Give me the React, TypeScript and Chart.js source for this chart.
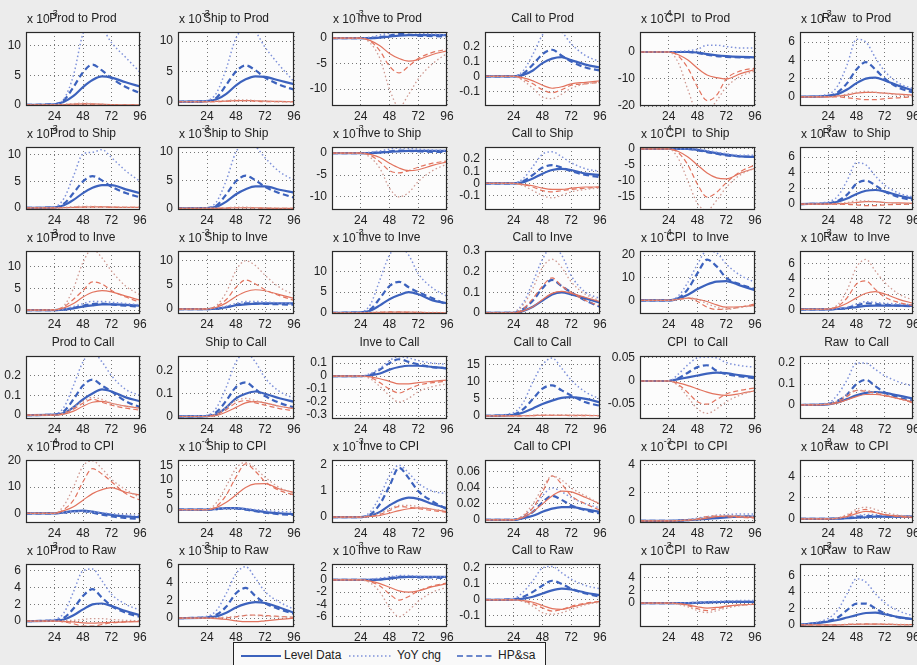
import React, { useEffect, useRef } from 'react';
import { Chart, registerables } from 'chart.js';
Chart.register(...registerables);

// horizon (months) at which each response value is read
const STEPS = [0, 24, 32, 40, 48, 56, 64, 72, 84, 96];
const X_TICKS = [24, 48, 72, 96];
const SHOCKS = ['Prod', 'Ship', 'Inve', 'Call', 'CPI ', 'Raw '];
const RESPONSES = ['Prod', 'Ship', 'Inve', 'Call', 'CPI', 'Raw'];

// exponent shown as "x 10^e" (row-major: response row, shock column)
const EXPONENTS = [
  '-3', '-3', '-3', '', '-4', '-3',
  '-3', '-3', '-3', '', '-4', '-3',
  '-3', '-3', '-3', '', '-4', '-3',
  '', '', '', '', '', '',
  '-4', '-4', '-3', '', '-2', '-2',
  '-3', '-3', '-3', '', '-3', '-3',
];

const Y_RANGES = [
  [-0.2, 12.3], [-0.7, 11.5], [-13.3, 1.2], [-0.2, 0.3], [-20, 7.4], [-1, 7.1],
  [-0.4, 11.5], [-0.3, 10.9], [-13, 1.4], [-0.22, 0.3], [-19, 0.6], [-0.76, 7.3],
  [-0.9, 13.6], [-1, 12], [-0.3, 15], [-0.005, 0.3], [-6, 21.8], [-0.6, 7.6],
  [-0.02, 0.3], [-0.011, 0.266], [-0.33, 0.155], [-0.9, 17.6], [-0.082, 0.054], [-0.067, 0.234],
  [-3.7, 20.3], [-4.5, 16.8], [-0.23, 2.2], [-0.004, 0.075], [-0.15, 4.35], [-0.4, 5.6],
  [-0.7, 6.8], [-1, 6.1], [-7.7, 2.6], [-0.17, 0.225], [-3.8, 6.2], [-0.25, 7.4],
];

const Y_TICKS = [
  [0, 5, 10], [0, 5, 10], [-10, -5, 0], [-0.1, 0, 0.1, 0.2], [-20, -10, 0], [0, 2, 4, 6],
  [0, 5, 10], [0, 5, 10], [-10, -5, 0], [-0.1, 0, 0.1, 0.2], [-15, -10, -5, 0], [0, 2, 4, 6],
  [0, 5, 10], [0, 5, 10], [0, 5, 10], [0, 0.1, 0.2, 0.3], [0, 10, 20], [0, 2, 4, 6],
  [0, 0.1, 0.2], [0, 0.1, 0.2], [-0.3, -0.2, -0.1, 0, 0.1], [0, 5, 10, 15], [-0.05, 0, 0.05], [0, 0.1, 0.2],
  [0, 10, 20], [0, 5, 10, 15], [0, 1, 2], [0, 0.02, 0.04, 0.06], [0, 2, 4], [0, 2, 4],
  [0, 2, 4, 6], [0, 2, 4, 6], [-6, -4, -2, 0, 2], [-0.1, 0, 0.1, 0.2], [0, 2, 4], [0, 2, 4, 6],
];

// Blue: Level Data (solid)
const LEVEL = [
  [0, 0.1, 0.5, 1.5, 3.0, 4.2, 4.8, 4.6, 3.8, 3.1],
  [0, 0.1, 0.4, 1.3, 2.7, 3.7, 4.2, 4.1, 3.5, 2.9],
  [0, 0, 0, 0.1, 0.3, 0.5, 0.6, 0.6, 0.6, 0.6],
  [0, 0, 0.01, 0.04, 0.09, 0.12, 0.13, 0.11, 0.08, 0.06],
  [0, 0, 0, 0, -0.2, -0.8, -1.2, -1.5, -1.8, -2],
  [0, 0.1, 0.3, 0.8, 1.5, 2.0, 2.1, 1.8, 1.2, 0.7],
  [0, 0.1, 0.5, 1.5, 2.8, 3.8, 4.3, 4.3, 3.5, 2.8],
  [0, 0.05, 0.3, 1.2, 2.5, 3.4, 3.9, 3.9, 3.3, 2.8],
  [0, 0, 0, 0.1, 0.3, 0.4, 0.5, 0.5, 0.5, 0.5],
  [0, 0, 0.01, 0.04, 0.08, 0.11, 0.12, 0.11, 0.08, 0.07],
  [0, 0, 0, 0, -0.3, -0.8, -1.3, -1.8, -2.3, -2.5],
  [0, 0.1, 0.3, 0.7, 1.3, 1.7, 1.8, 1.6, 1.1, 0.7],
  [0, 0, 0.1, 0.4, 0.8, 1.1, 1.3, 1.3, 1.2, 1.0],
  [0, 0, 0.1, 0.4, 0.8, 1.0, 1.1, 1.2, 1.2, 1.2],
  [0, 0.1, 0.5, 1.8, 3.3, 4.3, 5.0, 4.5, 3.0, 2.3],
  [0, 0, 0.01, 0.03, 0.06, 0.09, 0.1, 0.09, 0.07, 0.05],
  [0, 0, 0.8, 2.5, 5, 7, 8.3, 8.5, 6.5, 4.5],
  [0, 0, 0.05, 0.15, 0.3, 0.45, 0.5, 0.5, 0.5, 0.45],
  [0, 0.002, 0.01, 0.04, 0.08, 0.11, 0.13, 0.12, 0.09, 0.07],
  [0, 0.002, 0.01, 0.04, 0.08, 0.1, 0.11, 0.1, 0.08, 0.065],
  [0, 0, 0.005, 0.02, 0.05, 0.07, 0.08, 0.08, 0.07, 0.06],
  [0, 0.3, 1, 2.2, 3.5, 4.5, 5.3, 5.5, 5, 4],
  [0, 0, 0.004, 0.008, 0.012, 0.016, 0.018, 0.017, 0.012, 0.008],
  [0, 0.003, 0.012, 0.028, 0.046, 0.058, 0.062, 0.058, 0.045, 0.03],
  [0, 0, 0.3, 0.8, 1.0, 0.6, 0, -0.6, -1.2, -1.5],
  [0, 0, 0.2, 0.5, 0.5, 0.2, -0.3, -0.8, -1.2, -1.5],
  [0, 0, 0.05, 0.2, 0.45, 0.65, 0.75, 0.7, 0.5, 0.35],
  [0, 0, 0.002, 0.005, 0.01, 0.014, 0.016, 0.016, 0.013, 0.01],
  [0, 0, 0.02, 0.05, 0.1, 0.15, 0.2, 0.25, 0.3, 0.3],
  [0, 0, 0.02, 0.05, 0.1, 0.15, 0.2, 0.2, 0.2, 0.2],
  [0, 0.05, 0.2, 0.7, 1.4, 2.0, 2.1, 1.8, 1.2, 0.7],
  [0, 0.05, 0.2, 0.6, 1.2, 1.6, 1.8, 1.7, 1.2, 0.6],
  [0, 0, 0, 0.05, 0.2, 0.4, 0.5, 0.5, 0.5, 0.5],
  [0, 0.002, 0.008, 0.02, 0.04, 0.06, 0.07, 0.065, 0.045, 0.03],
  [0, 0, 0, 0, 0.05, 0.1, 0.15, 0.2, 0.2, 0.2],
  [0, 0.4, 0.6, 0.9, 1.2, 1.45, 1.5, 1.3, 0.95, 0.7],
];

// Blue: YoY chg (dotted)
const YOY = [
  [0, 0.1, 1, 5, 12, 14, 13, 10.5, 8, 5.5],
  [0, 0.2, 1.5, 5.5, 10.5, 12, 11.5, 9, 6, 3.3],
  [0, 0, 0.2, 0.6, 1.0, 1.5, 1.2, 1, 0.8, 0.6],
  [0, 0, 0.04, 0.15, 0.28, 0.33, 0.3, 0.22, 0.14, 0.1],
  [0, 0, 0.2, 0.5, 1, 2.5, 2.5, 2, 1.5, 1.5],
  [0, 0.3, 1.2, 3.5, 6.3, 6.0, 4.3, 2.8, 1.5, 0.9],
  [0, 0.2, 1.8, 6, 10.2, 10.5, 11, 9.5, 7, 5],
  [0, 0.1, 1.2, 5, 10, 11.5, 11, 9, 6.5, 5],
  [0, 0, 0.2, 0.5, 0.9, 1.2, 1.1, 0.9, 0.7, 0.6],
  [0, 0, 0.04, 0.14, 0.24, 0.26, 0.22, 0.17, 0.12, 0.1],
  [0, 0, 0, 0.1, 0, -0.5, -1, -1.5, -2, -2],
  [0, 0.3, 1.0, 3.0, 5.3, 5.0, 3.6, 2.4, 1.4, 0.9],
  [0, 0, 0.2, 0.8, 1.5, 2, 2, 1.8, 1.5, 1.2],
  [0, 0, 0.2, 0.6, 1.2, 1.6, 1.6, 1.5, 1.3, 1.2],
  [0, 0.2, 2, 8, 14, 16, 14, 9.5, 6, 4],
  [0, 0.005, 0.05, 0.15, 0.26, 0.32, 0.28, 0.18, 0.1, 0.07],
  [0, 0, 2, 8, 16, 22, 21, 16, 11, 8],
  [0, 0, 0.1, 0.3, 0.7, 1.0, 0.9, 0.8, 0.7, 0.6],
  [0, 0.005, 0.04, 0.15, 0.27, 0.32, 0.27, 0.2, 0.13, 0.1],
  [0, 0.005, 0.04, 0.13, 0.24, 0.28, 0.24, 0.17, 0.11, 0.08],
  [0, 0, 0.02, 0.06, 0.12, 0.15, 0.14, 0.12, 0.1, 0.09],
  [0, 1, 4, 10, 15, 17, 14, 10.5, 7, 5],
  [0, 0, 0.015, 0.035, 0.05, 0.052, 0.05, 0.04, 0.033, 0.03],
  [0, 0.01, 0.05, 0.12, 0.2, 0.2, 0.17, 0.14, 0.11, 0.09],
  [0, 0, 0.3, 0.6, 0.8, 0.5, 0.2, -0.2, -0.5, -0.8],
  [0, 0, 0.2, 0.4, 0.5, 0.3, 0, -0.3, -0.6, -0.8],
  [0, 0, 0.2, 0.8, 1.6, 2.0, 1.7, 1.3, 1.0, 0.9],
  [0, 0, 0.005, 0.015, 0.03, 0.04, 0.035, 0.028, 0.02, 0.015],
  [0, 0, 0.03, 0.1, 0.2, 0.3, 0.4, 0.45, 0.5, 0.5],
  [0, 0, 0.05, 0.15, 0.3, 0.4, 0.4, 0.35, 0.3, 0.3],
  [0, 0.2, 1.0, 3.5, 6.0, 6.2, 4.8, 3.2, 2.0, 1.3],
  [0, 0.2, 0.9, 2.8, 5.0, 5.8, 4.5, 3.0, 1.8, 1.0],
  [0, 0, 0.1, 0.3, 0.5, 0.7, 0.7, 0.6, 0.5, 0.5],
  [0, 0.01, 0.05, 0.12, 0.2, 0.21, 0.17, 0.13, 0.09, 0.07],
  [0, 0, 0, 0.05, 0.1, 0.2, 0.3, 0.3, 0.4, 0.4],
  [0, 0.8, 1.8, 3.8, 5.6, 5.2, 3.8, 2.7, 1.7, 1.1],
];

// Blue: HP&sa (dashed)
const HPSA = [
  [0, 0.1, 0.8, 3, 5.5, 6.8, 5.8, 4.5, 3, 2],
  [0, 0.1, 0.7, 2.8, 5, 6, 5.2, 4, 2.8, 2],
  [0, 0, 0, 0.2, 0.5, 0.8, 0.7, 0.5, 0.4, 0.3],
  [0, 0, 0.02, 0.08, 0.15, 0.18, 0.14, 0.1, 0.06, 0.04],
  [0, 0, 0, 0, -0.3, -1, -1.5, -1.8, -2, -2],
  [0, 0.1, 0.5, 1.5, 3.0, 3.8, 3.0, 2.0, 1.0, 0.5],
  [0, 0.1, 0.8, 2.8, 5, 6, 5.2, 4, 2.8, 2],
  [0, 0.05, 0.5, 2.5, 4.8, 5.8, 5, 3.8, 2.7, 1.9],
  [0, 0, 0, 0.2, 0.4, 0.6, 0.5, 0.4, 0.3, 0.3],
  [0, 0, 0.02, 0.07, 0.13, 0.15, 0.13, 0.1, 0.07, 0.05],
  [0, 0, 0, 0, -0.4, -1, -1.5, -2, -2.3, -2.5],
  [0, 0.1, 0.4, 1.2, 2.6, 3.0, 2.4, 1.6, 0.9, 0.5],
  [0, 0, 0.1, 0.5, 1.0, 1.4, 1.5, 1.3, 1.0, 0.8],
  [0, 0, 0.1, 0.4, 0.9, 1.2, 1.2, 1.1, 1.0, 0.9],
  [0, 0.1, 0.8, 3.5, 6.5, 7.5, 6.2, 5.0, 3.5, 2.0],
  [0, 0, 0.02, 0.06, 0.12, 0.16, 0.13, 0.1, 0.06, 0.03],
  [0, 0, 1, 5, 12, 18, 15, 10, 7, 5],
  [0, 0, 0.05, 0.2, 0.5, 0.8, 0.7, 0.6, 0.5, 0.4],
  [0, 0.002, 0.02, 0.08, 0.15, 0.18, 0.15, 0.12, 0.07, 0.04],
  [0, 0.002, 0.02, 0.07, 0.13, 0.15, 0.12, 0.09, 0.06, 0.04],
  [0, 0, 0.01, 0.05, 0.1, 0.13, 0.11, 0.09, 0.07, 0.06],
  [0, 0.5, 2, 5, 8, 9, 7.5, 6, 4, 3],
  [0, 0, 0.006, 0.018, 0.03, 0.034, 0.022, 0.015, 0.01, 0.006],
  [0, 0.005, 0.02, 0.05, 0.1, 0.12, 0.09, 0.06, 0.035, 0.02],
  [0, 0, 0.3, 0.8, 0.8, 0.2, -0.5, -1.2, -1.8, -2.2],
  [0, 0, 0.2, 0.5, 0.4, 0, -0.5, -1, -1.5, -1.8],
  [0, 0, 0.1, 0.5, 1.2, 1.9, 1.5, 1.0, 0.6, 0.3],
  [0, 0, 0.003, 0.01, 0.022, 0.03, 0.025, 0.018, 0.012, 0.008],
  [0, 0, 0.02, 0.06, 0.12, 0.2, 0.25, 0.3, 0.3, 0.3],
  [0, 0, 0.03, 0.08, 0.2, 0.25, 0.25, 0.2, 0.2, 0.2],
  [0, 0.1, 0.4, 1.5, 3.0, 3.8, 2.8, 1.8, 1.0, 0.5],
  [0, 0.1, 0.4, 1.3, 2.8, 3.4, 2.5, 1.7, 1.0, 0.5],
  [0, 0, 0, 0.1, 0.3, 0.5, 0.5, 0.4, 0.4, 0.3],
  [0, 0.004, 0.02, 0.05, 0.09, 0.12, 0.1, 0.07, 0.04, 0.02],
  [0, 0, 0, 0, 0.05, 0.1, 0.15, 0.2, 0.2, 0.2],
  [0, 0.5, 0.9, 1.8, 2.6, 2.6, 2.0, 1.4, 0.9, 0.7],
];

// Red: level (solid)
const LEVEL_R = [
  [0, 0, 0.05, 0.1, 0.15, 0.15, 0.1, 0.05, 0, 0],
  [0, 0, 0.05, 0.1, 0.2, 0.2, 0.15, 0.1, 0.05, 0],
  [0, 0, -0.5, -1.5, -3, -4, -4.5, -4.2, -3.2, -2.5],
  [0, 0, -0.01, -0.03, -0.06, -0.08, -0.07, -0.05, -0.04, -0.03],
  [0, 0, -1, -3, -6, -8.5, -9.5, -10, -8, -6.5],
  [0, 0, 0.1, 0.2, 0.4, 0.5, 0.5, 0.4, 0.3, 0.2],
  [0, 0, 0.05, 0.1, 0.15, 0.2, 0.2, 0.15, 0.1, 0.1],
  [0, 0, 0, 0.05, 0.1, 0.1, 0.1, 0.05, 0, 0],
  [0, 0, -0.3, -1, -2.3, -3.4, -4, -3.8, -2.8, -2],
  [0, 0, -0.01, -0.02, -0.04, -0.05, -0.05, -0.04, -0.03, -0.03],
  [0, 0, -0.8, -2.5, -5, -7.5, -9, -9.3, -7.5, -6],
  [0, 0, 0.05, 0.1, 0.2, 0.3, 0.3, 0.2, 0.15, 0.1],
  [0, 0.05, 0.5, 1.5, 3.0, 4.1, 4.5, 4.2, 3.2, 2.3],
  [0, 0.05, 0.4, 1.3, 2.6, 3.6, 4.0, 3.8, 3.0, 2.2],
  [0, 0, 0.05, 0.1, 0.15, 0.15, 0.15, 0.1, 0.05, 0],
  [0, 0, 0.01, 0.03, 0.065, 0.095, 0.105, 0.095, 0.075, 0.055],
  [0, 0, 0.5, 1.0, 0.5, -0.5, -2, -3, -2.8, -2.2],
  [0, 0.05, 0.3, 0.8, 1.5, 2.1, 2.3, 2.0, 1.3, 0.8],
  [0, 0, 0.005, 0.02, 0.045, 0.065, 0.07, 0.06, 0.045, 0.035],
  [0, 0, 0.005, 0.02, 0.04, 0.06, 0.065, 0.06, 0.045, 0.035],
  [0, 0, -0.005, -0.02, -0.04, -0.06, -0.06, -0.05, -0.04, -0.03],
  [0, 0, 0.05, 0.1, 0.2, 0.2, 0.2, 0.2, 0.15, 0.1],
  [0, 0, -0.004, -0.01, -0.017, -0.024, -0.029, -0.031, -0.027, -0.021],
  [0, 0.003, 0.01, 0.025, 0.04, 0.05, 0.05, 0.045, 0.03, 0.015],
  [0, 0, 1, 2.5, 5, 7.5, 9, 9.8, 8, 7],
  [0, 0, 0.8, 2.5, 5, 7.5, 8.7, 8.8, 7, 5.8],
  [0, 0, 0.02, 0.06, 0.15, 0.25, 0.32, 0.35, 0.3, 0.2],
  [0, 0, 0.003, 0.01, 0.02, 0.03, 0.036, 0.035, 0.028, 0.02],
  [0, 0, 0.02, 0.05, 0.1, 0.2, 0.3, 0.35, 0.3, 0.25],
  [0, 0, 0.05, 0.2, 0.5, 0.7, 0.6, 0.4, 0.25, 0.15],
  [0, 0, -0.05, -0.1, -0.2, -0.25, -0.2, -0.15, -0.1, -0.05],
  [0, 0, -0.05, -0.15, -0.3, -0.4, -0.4, -0.3, -0.15, 0],
  [0, 0, -0.2, -0.6, -1.2, -1.8, -2.0, -1.8, -1.1, -0.6],
  [0, 0, -0.005, -0.015, -0.035, -0.055, -0.06, -0.045, -0.025, -0.01],
  [0, 0, -0.1, -0.3, -0.6, -0.8, -0.7, -0.5, -0.3, -0.2],
  [0, 0, 0.02, 0.05, 0.08, 0.1, 0.1, 0.08, 0.05, 0.03],
];

// Red: YoY (dotted)
const YOY_R = [
  [0, 0, 0.1, 0.2, 0.3, 0.2, 0.1, 0, 0, 0],
  [0, 0, 0.1, 0.2, 0.3, 0.3, 0.2, 0.1, 0, 0],
  [0, 0, -1, -4, -10, -13.5, -11, -8, -5, -3],
  [0, 0, -0.03, -0.08, -0.14, -0.15, -0.12, -0.08, -0.05, -0.04],
  [0, 0, -4, -14, -22, -22, -18, -13, -9, -7],
  [0, 0, 0.1, 0.3, 0.5, 0.6, 0.5, 0.4, 0.2, 0.1],
  [0, 0, 0.1, 0.2, 0.3, 0.3, 0.2, 0.2, 0.1, 0.1],
  [0, 0, 0.05, 0.1, 0.2, 0.2, 0.1, 0.1, 0, 0],
  [0, 0, -1, -3.5, -8, -10, -9, -6.5, -4, -2.5],
  [0, 0, -0.02, -0.06, -0.1, -0.12, -0.1, -0.07, -0.05, -0.04],
  [0, 0, -3, -10, -17, -19, -16, -12, -8, -6],
  [0, 0, 0.1, 0.2, 0.4, 0.4, 0.3, 0.2, 0.1, 0.1],
  [0, 0.1, 1, 5, 11, 14, 12, 9, 5.5, 3.5],
  [0, 0.1, 0.8, 3.5, 8, 10, 9, 7, 4.5, 3],
  [0, 0, 0.1, 0.2, 0.3, 0.3, 0.2, 0.1, 0.1, 0],
  [0, 0.005, 0.04, 0.12, 0.22, 0.26, 0.22, 0.15, 0.09, 0.06],
  [0, 0, 0.5, 1, 0.5, -1.5, -3, -4, -3, -2.5],
  [0, 0.1, 0.6, 2.5, 5.5, 6.5, 5, 3.5, 2, 1.2],
  [0, 0, 0.01, 0.04, 0.07, 0.09, 0.08, 0.06, 0.045, 0.035],
  [0, 0, 0.01, 0.04, 0.07, 0.08, 0.07, 0.06, 0.045, 0.035],
  [0, 0, -0.02, -0.08, -0.15, -0.2, -0.17, -0.12, -0.08, -0.06],
  [0, 0, 0.1, 0.2, 0.3, 0.3, 0.3, 0.2, 0.2, 0.1],
  [0, 0, -0.01, -0.035, -0.06, -0.07, -0.06, -0.045, -0.03, -0.02],
  [0, 0.005, 0.02, 0.05, 0.07, 0.07, 0.06, 0.05, 0.03, 0.015],
  [0, 0, 3, 10, 18, 20, 17, 13, 9, 6],
  [0, 0, 2.5, 8, 14, 16, 14, 11, 7.5, 5.5],
  [0, 0, 0.05, 0.15, 0.3, 0.45, 0.45, 0.4, 0.3, 0.25],
  [0, 0, 0.006, 0.02, 0.04, 0.055, 0.05, 0.04, 0.03, 0.02],
  [0, 0, 0.03, 0.08, 0.15, 0.3, 0.4, 0.4, 0.35, 0.3],
  [0, 0, 0.1, 0.4, 0.9, 1.1, 0.9, 0.6, 0.35, 0.2],
  [0, 0, 0.05, 0.1, 0.2, 0.3, 0.3, 0.2, 0.1, 0.05],
  [0, 0, 0.05, 0.1, 0.2, 0.3, 0.3, 0.2, 0.15, 0.1],
  [0, 0, -0.5, -2, -4.5, -6, -5, -3.5, -2, -1.2],
  [0, 0, -0.01, -0.04, -0.08, -0.09, -0.08, -0.06, -0.03, -0.015],
  [0, 0, -0.2, -0.6, -1.2, -1.5, -1.2, -0.8, -0.4, -0.2],
  [0, 0, 0.03, 0.08, 0.12, 0.15, 0.12, 0.1, 0.06, 0.04],
];

// Red: HP&sa (dashed)
const HPSA_R = [
  [0, 0, 0, 0.1, 0.2, 0.1, 0, 0, 0, 0],
  [0, 0, 0, 0.1, 0.2, 0.2, 0.1, 0, 0, 0],
  [0, 0, -0.6, -2.5, -5.5, -6.8, -5.5, -4, -2.8, -2.2],
  [0, 0, -0.02, -0.05, -0.09, -0.11, -0.09, -0.06, -0.05, -0.04],
  [0, 0, -1.5, -6, -13, -18, -16, -10, -7, -6],
  [0, 0, 0, -0.1, -0.2, -0.3, -0.3, -0.2, -0.1, 0],
  [0, 0, 0.05, 0.1, 0.2, 0.2, 0.2, 0.1, 0.1, 0.1],
  [0, 0, 0, 0.05, 0.1, 0.1, 0.05, 0, 0, 0],
  [0, 0, -0.5, -2, -4, -4.5, -4, -3.2, -2.3, -1.8],
  [0, 0, -0.01, -0.03, -0.06, -0.07, -0.06, -0.05, -0.04, -0.03],
  [0, 0, -1.2, -5, -11, -15, -13.5, -10.5, -7, -5],
  [0, 0, 0, -0.05, -0.1, -0.2, -0.2, -0.1, -0.05, 0],
  [0, 0.05, 0.8, 2.5, 4.5, 6.5, 6.0, 4.5, 3.0, 1.8],
  [0, 0.05, 0.6, 2, 4.5, 6.0, 5.2, 4.0, 2.8, 1.8],
  [0, 0, 0.05, 0.1, 0.2, 0.2, 0.1, 0.1, 0, 0],
  [0, 0, 0.02, 0.07, 0.13, 0.17, 0.13, 0.1, 0.06, 0.035],
  [0, 0, 0.5, 1, -0.5, -3, -4, -3.8, -3, -1.5],
  [0, 0.05, 0.4, 1.5, 3.3, 3.7, 2.6, 1.6, 0.9, 0.5],
  [0, 0, 0.01, 0.03, 0.06, 0.08, 0.065, 0.05, 0.035, 0.025],
  [0, 0, 0.01, 0.03, 0.06, 0.07, 0.06, 0.05, 0.035, 0.025],
  [0, 0, -0.01, -0.05, -0.1, -0.13, -0.1, -0.07, -0.05, -0.04],
  [0, 0, 0.05, 0.1, 0.2, 0.2, 0.2, 0.1, 0.1, 0.1],
  [0, 0, -0.008, -0.025, -0.045, -0.05, -0.04, -0.028, -0.02, -0.015],
  [0, 0.004, 0.015, 0.04, 0.07, 0.065, 0.055, 0.045, 0.03, 0.01],
  [0, 0, 1.5, 5, 12, 17, 15, 12, 7.5, 5],
  [0, 0, 1.2, 5, 11, 15.5, 13, 9.5, 6.5, 5],
  [0, 0, 0.03, 0.1, 0.25, 0.4, 0.38, 0.32, 0.25, 0.18],
  [0, 0, 0.005, 0.015, 0.035, 0.055, 0.045, 0.03, 0.02, 0.012],
  [0, 0, 0.02, 0.06, 0.15, 0.3, 0.35, 0.3, 0.25, 0.2],
  [0, 0, 0.05, 0.3, 0.7, 0.9, 0.6, 0.4, 0.2, 0.1],
  [0, 0, -0.1, -0.3, -0.6, -0.6, -0.4, -0.2, -0.1, 0],
  [0, 0, 0, 0.05, 0.15, 0.3, 0.35, 0.3, 0.2, 0.1],
  [0, 0, -0.3, -1, -2.3, -3.3, -2.7, -1.8, -1, -0.5],
  [0, 0, -0.008, -0.025, -0.05, -0.07, -0.06, -0.04, -0.02, -0.01],
  [0, 0, -0.1, -0.4, -0.9, -1.2, -0.9, -0.6, -0.3, -0.2],
  [0, 0, 0.02, 0.06, 0.1, 0.12, 0.1, 0.08, 0.05, 0.03],
];

// layout of the plot boxes (px)
const COL_LEFT = [26, 178, 332, 485, 640, 800];
const COL_WIDTH = [114, 116, 115, 115, 115, 113];
const ROW_TOP = [32, 147, 251, 356, 460, 564];
const ROW_BOTTOM = [106, 210, 314, 419, 523, 627];

const FONT = '"Liberation Sans", Arial, Helvetica, sans-serif';
const PAD_L = 34, PAD_T = 30, PAD_R = 12, PAD_B = 22;

const BLUE = '#3c62bd';
const BLUE_LIGHT = '#7f92da';
const RED = '#e2735e';
const RED_DOT = '#cf9a92';

const framePlugin = {
  id: 'frame',
  beforeDraw(chart: any) {
    const { ctx, chartArea: a } = chart;
    ctx.save();
    ctx.fillStyle = '#fcfcfc';
    ctx.fillRect(a.left, a.top, a.right - a.left, a.bottom - a.top);
    ctx.restore();
  },
  afterDraw(chart: any, _args: any, opts: any) {
    const { ctx, chartArea: a } = chart;
    ctx.save();
    ctx.strokeStyle = '#2a2a2a';
    ctx.lineWidth = 1.2;
    ctx.strokeRect(a.left + 0.5, a.top + 0.5, a.right - a.left - 1, a.bottom - a.top - 1);
    ctx.fillStyle = '#222';
    ctx.font = `12px ${FONT}`;
    ctx.textBaseline = 'alphabetic';
    ctx.textAlign = 'center';
    ctx.fillText(opts.title, (a.left + a.right) / 2, a.top - 10);
    if (opts.exp) {
      ctx.textAlign = 'left';
      const base = 'x 10';
      ctx.fillText(base, a.left + 1, a.top - 9);
      const w = ctx.measureText(base).width;
      ctx.font = `9px ${FONT}`;
      ctx.fillText(opts.exp, a.left + 1 + w, a.top - 16);
    }
    ctx.restore();
  },
};

function series(arr: number[]) {
  return STEPS.map((x, i) => ({ x, y: arr[i] }));
}

function Panel({ idx }: { idx: number }) {
  const ref = useRef<HTMLCanvasElement>(null);
  const r = Math.floor(idx / 6);
  const c = idx % 6;
  const w = COL_WIDTH[c];
  const h = ROW_BOTTOM[r] - ROW_TOP[r];
  const cw = PAD_L + w + PAD_R;
  const ch = PAD_T + h + PAD_B;

  useEffect(() => {
    const mk = (label: string, arr: number[], color: string, width: number, dash: number[]) => ({
      label,
      data: series(arr),
      borderColor: color,
      borderWidth: width,
      borderDash: dash,
      pointRadius: 0,
      fill: false,
      cubicInterpolationMode: 'monotone' as const,
      clip: 0,
    });
    const chart = new Chart(ref.current as HTMLCanvasElement, {
      type: 'line',
      data: {
        datasets: [
          mk('YoY (alt)', YOY_R[idx], RED_DOT, 1.3, [1.5, 2.5]),
          mk('HP&sa (alt)', HPSA_R[idx], RED, 1.2, [5, 3]),
          mk('Level (alt)', LEVEL_R[idx], RED, 1.2, []),
          mk('YoY chg', YOY[idx], BLUE_LIGHT, 1.5, [1.5, 2.5]),
          mk('HP&sa', HPSA[idx], BLUE, 2.2, [6, 3.5]),
          mk('Level Data', LEVEL[idx], BLUE, 2.2, []),
        ],
      },
      options: {
        animation: false,
        responsive: false,
        events: [],
        layout: { padding: { left: 0, top: PAD_T, right: PAD_R, bottom: 0 } },
        plugins: {
          legend: { display: false },
          tooltip: { enabled: false },
          frame: { title: `${SHOCKS[c]} to ${RESPONSES[r]}`, exp: EXPONENTS[idx] },
        } as any,
        scales: {
          x: {
            type: 'linear',
            min: 0,
            max: 96,
            afterBuildTicks: (s: any) => {
              s.ticks = X_TICKS.map((v) => ({ value: v }));
            },
            afterFit: (s: any) => {
              s.height = PAD_B;
              s.paddingLeft = 0;
              s.paddingRight = 0;
            },
            ticks: {
              autoSkip: false,
              maxRotation: 0,
              padding: 3,
              color: '#222',
              font: { family: FONT, size: 12 },
            },
            grid: { color: '#777', lineWidth: 1, drawTicks: false },
            border: { display: false, dash: [1, 3] },
          },
          y: {
            type: 'linear',
            min: Y_RANGES[idx][0],
            max: Y_RANGES[idx][1],
            afterBuildTicks: (s: any) => {
              s.ticks = Y_TICKS[idx].map((v) => ({ value: v }));
            },
            afterFit: (s: any) => {
              s.width = PAD_L;
              s.paddingTop = 0;
              s.paddingBottom = 0;
            },
            ticks: {
              autoSkip: false,
              padding: 5,
              color: '#222',
              font: { family: FONT, size: 12 },
              callback: (v: any) => String(v),
            },
            grid: { color: '#777', lineWidth: 1, drawTicks: false },
            border: { display: false, dash: [1, 3] },
          },
        },
      },
      plugins: [framePlugin],
    } as any);
    return () => chart.destroy();
  }, [idx]);

  return (
    <canvas
      ref={ref}
      width={cw}
      height={ch}
      style={{
        position: 'absolute',
        left: COL_LEFT[c] - PAD_L,
        top: ROW_TOP[r] - PAD_T,
        width: cw,
        height: ch,
      }}
    />
  );
}

function Legend() {
  const lineY = 13;
  return (
    <div
      style={{
        position: 'absolute',
        left: 233,
        top: 642,
        width: 311,
        height: 32,
        border: '1px solid #222',
        background: '#f9f9f9',
        fontFamily: FONT,
        fontSize: 12,
        color: '#222',
      }}
    >
      <svg width={311} height={30} style={{ position: 'absolute', left: 0, top: 0 }}>
        <line x1={7} x2={47} y1={lineY} y2={lineY} stroke={BLUE} strokeWidth={2.2} />
        <line x1={115} x2={158} y1={lineY} y2={lineY} stroke={BLUE_LIGHT} strokeWidth={1.3} strokeDasharray="1.5 2.5" />
        <line x1={223} x2={260} y1={lineY} y2={lineY} stroke={BLUE} strokeWidth={1.5} strokeDasharray="6 3.5" />
      </svg>
      <span style={{ position: 'absolute', left: 50, top: 5 }}>Level Data</span>
      <span style={{ position: 'absolute', left: 163, top: 5 }}>YoY chg</span>
      <span style={{ position: 'absolute', left: 264, top: 5 }}>HP&amp;sa</span>
    </div>
  );
}

export default function App() {
  const idxs = Array.from({ length: 36 }, (_, i) => i);
  return (
    <div
      style={{
        position: 'fixed',
        left: 0,
        top: 0,
        width: 917,
        height: 665,
        overflow: 'hidden',
        background: '#ececec',
      }}
    >
      {idxs.map((i) => (
        <Panel key={i} idx={i} />
      ))}
      <Legend />
    </div>
  );
}
